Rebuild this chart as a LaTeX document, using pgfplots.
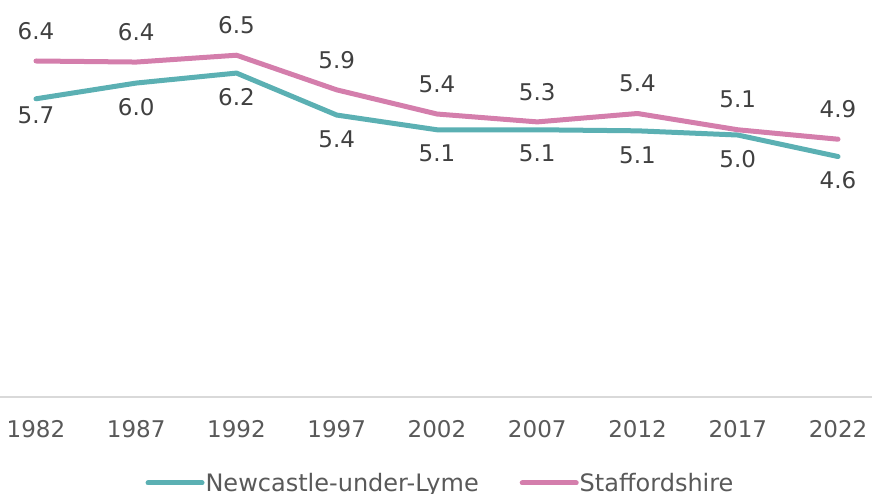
\documentclass[border=0pt]{standalone}
\usepackage{pgfplots}
\pgfplotsset{compat=1.18}
\usepackage{fontspec}
\setmainfont{DejaVu Sans}
\definecolor{teal1}{HTML}{5BB0B3}
\definecolor{pink1}{HTML}{D47EAC}
\definecolor{lblc}{HTML}{404040}
\definecolor{tickc}{HTML}{595959}
\definecolor{axc}{HTML}{D9D9D9}
\begin{document}
\begin{tikzpicture}
\useasboundingbox (0,0) rectangle (872pt,494pt);
\begin{axis}[
  at={(0,97pt)}, anchor=south west,
  scale only axis, width=872pt, height=393.75pt,
  xmin=-0.359, xmax=8.339, ymin=0, ymax=7.5,
  axis lines=none,
  clip=false,
  xtick={0,...,8},
  xticklabels={1982,1987,1992,1997,2002,2007,2012,2017,2022},
  ytick=\empty,
  font=\fontsize{23}{27}\selectfont,
  legend columns=2,
  legend style={draw=none, fill=none, at={(0.5046,-0.2184)}, anchor=center,
    font=\fontsize{24}{28}\selectfont, text=tickc,
    /tikz/every even column/.append style={column sep=40pt},
    nodes={inner sep=1pt}},
  legend image code/.code={\draw[#1, line width=5pt, line cap=round] (0pt,0pt) -- (54pt,0pt);},
  legend cell align=left,
]
\draw[axc, line width=1.5pt] (axis description cs:0,0) -- (axis description cs:1,0);
\foreach \i/\lab in {0/1982,1/1987,2/1992,3/1997,4/2002,5/2007,6/2012,7/2017,8/2022} {
  \edef\tmp{\noexpand\node[text=tickc, anchor=center, yshift=-32pt] at (axis cs:\i,0) {\lab};}\tmp
}
\addplot[teal1, line width=5pt, line join=round, line cap=round] coordinates {
(0,5.68) (1,5.98) (2,6.17) (3,5.37) (4,5.09) (5,5.09) (6,5.07) (7,4.99) (8,4.58)};
\addlegendentry{Newcastle-under-Lyme}
\addplot[pink1, line width=5pt, line join=round, line cap=round] coordinates {
(0,6.40) (1,6.38) (2,6.51) (3,5.85) (4,5.39) (5,5.24) (6,5.40) (7,5.09) (8,4.91)};
\addlegendentry{Staffordshire}
\addplot[draw=none, mark=none, forget plot, point meta=explicit symbolic,
  nodes near coords,
  every node near coord/.append style={anchor=center, yshift=-24pt, text=lblc, inner sep=0pt}]
  coordinates {(1,5.98)[6.0] (2,6.17)[6.2] (3,5.37)[5.4] (4,5.09)[5.1] (5,5.09)[5.1] (6,5.07)[5.1] (7,4.99)[5.0] (8,4.58)[4.6]};
\addplot[draw=none, mark=none, forget plot, point meta=explicit symbolic,
  nodes near coords,
  every node near coord/.append style={anchor=center, yshift=-16.5pt, text=lblc, inner sep=0pt}]
  coordinates {(0,5.68)[5.7]};
\addplot[draw=none, mark=none, forget plot, point meta=explicit symbolic,
  nodes near coords,
  every node near coord/.append style={anchor=center, yshift=30pt, text=lblc, inner sep=0pt}]
  coordinates {(0,6.40)[6.4] (1,6.38)[6.4] (2,6.51)[6.5] (3,5.85)[5.9] (4,5.39)[5.4] (5,5.24)[5.3] (6,5.40)[5.4] (7,5.09)[5.1] (8,4.91)[4.9]};
\end{axis}
\end{tikzpicture}
\end{document}
